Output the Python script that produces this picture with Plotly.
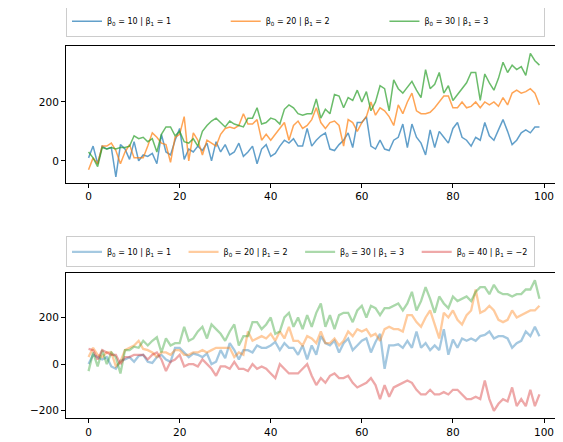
import plotly.graph_objects as go

x = list(range(100))
top_b1 = [10,50,-10,50,40,45,-55,55,40,5,65,0,20,15,25,-10,90,30,20,70,110,5,40,30,50,35,60,0,65,30,55,20,30,60,15,30,50,-10,40,55,15,25,50,70,60,75,50,50,110,50,70,85,95,40,35,55,70,95,45,130,130,150,50,40,70,40,35,70,80,125,45,125,80,60,20,105,45,100,80,60,110,130,80,70,50,80,70,130,85,70,105,140,100,55,70,95,105,95,115,115]
top_b2 = [-30,10,-10,50,50,60,35,-10,30,55,10,10,10,50,95,80,60,55,-5,80,90,150,0,95,70,20,70,60,50,90,110,115,110,120,160,125,125,140,70,90,70,90,110,130,70,120,135,110,120,140,180,130,110,130,135,120,50,140,130,100,130,150,200,155,180,170,150,120,190,160,200,230,170,160,160,165,180,200,220,220,180,180,200,180,185,200,180,200,190,200,185,215,190,230,240,230,235,245,230,190]
top_b3 = [30,10,-20,45,40,45,40,45,45,50,85,75,80,65,75,30,90,115,115,85,100,65,60,75,50,100,120,135,145,130,115,135,125,120,115,145,145,180,125,130,145,140,125,175,190,180,160,155,160,160,210,145,175,160,225,220,180,215,205,240,200,235,170,200,255,245,170,275,245,230,250,270,240,215,310,245,260,300,230,255,205,225,245,265,300,300,205,295,265,240,280,335,300,325,310,320,290,365,340,325]
bot_b1 = [0,40,30,20,30,-10,-20,15,20,30,10,35,40,10,5,30,40,20,10,70,70,50,30,45,40,30,45,0,10,60,25,90,60,20,60,60,50,80,70,70,80,95,60,90,70,70,40,80,20,80,40,120,90,80,100,50,90,110,60,80,100,110,50,95,130,-20,80,80,85,70,100,70,140,70,90,60,80,60,150,40,105,70,110,100,110,100,120,125,140,110,120,120,110,70,90,100,140,120,160,120]
bot_b2 = [30,70,40,30,50,50,-10,10,60,70,80,100,65,60,50,30,50,50,40,60,60,40,40,50,50,60,50,60,70,70,70,70,30,50,40,140,100,110,120,110,130,100,140,110,160,100,100,80,120,110,90,140,90,90,110,80,100,140,120,150,140,150,120,130,100,150,160,150,150,140,210,210,180,160,200,230,170,110,220,200,230,190,170,210,230,320,220,230,250,230,190,180,190,230,200,210,220,230,230,250]
bot_b3 = [-30,50,-10,60,0,50,30,-40,60,60,75,70,100,80,100,115,50,110,80,90,90,160,100,110,140,160,110,170,150,130,100,140,170,80,120,120,180,180,150,170,200,130,140,200,220,160,200,150,210,160,220,260,160,210,150,210,220,220,180,230,250,200,250,240,210,240,240,250,260,230,260,310,230,270,330,280,220,290,260,240,290,270,280,290,270,310,330,330,300,340,310,300,300,290,300,300,320,320,360,280]
bot_b4 = [65,60,20,60,50,40,40,0,30,30,40,40,40,20,40,50,20,-30,10,20,40,-10,0,0,-10,20,0,-20,-50,-10,-10,-20,10,-20,-20,-30,0,-20,-10,-20,-40,-60,0,-20,-40,-40,-40,-20,0,-50,-90,-60,-80,-50,-40,-60,-60,-50,-80,-100,-90,-80,-60,-90,-150,-90,-140,-100,-90,-80,-70,-80,-110,-130,-130,-110,-130,-130,-120,-130,-110,-110,-130,-150,-150,-140,-150,-70,-150,-200,-170,-150,-160,-100,-180,-150,-180,-110,-180,-130]

top_labels = ["β<sub>0</sub> = 10 | β<sub>1</sub> = 1", "β<sub>0</sub> = 20 | β<sub>1</sub> = 2", "β<sub>0</sub> = 30 | β<sub>1</sub> = 3"]
bot_labels = top_labels + ["β<sub>0</sub> = 40 | β<sub>1</sub> = −2"]
colors = ["#1f77b4", "#ff7f0e", "#2ca02c", "#d62728"]

fig = go.Figure()
for ys, lab, c in zip([top_b1, top_b2, top_b3], top_labels, colors):
    fig.add_trace(go.Scatter(x=x, y=ys, name=lab, mode="lines", line=dict(color=c, width=1.5),
                             opacity=0.7, xaxis="x", yaxis="y", legend="legend"))
for ys, lab, c in zip([bot_b1, bot_b2, bot_b3, bot_b4], bot_labels, colors):
    fig.add_trace(go.Scatter(x=x, y=ys, name=lab, mode="lines", line=dict(color=c, width=2.3),
                             opacity=0.4, xaxis="x2", yaxis="y2", legend="legend2"))

ax = dict(showgrid=False, zeroline=False, showline=True, mirror=True, linecolor="black", linewidth=1,
          ticks="outside", ticklen=4, tickcolor="black", tickfont=dict(size=10.5, color="black"))
fig.update_layout(
    width=563, height=442, plot_bgcolor="white", paper_bgcolor="white",
    margin=dict(l=58, r=9, t=38, b=32, autoexpand=False),
    font=dict(family="DejaVu Sans", color="black"),
    xaxis=dict(ax, domain=[0, 1], range=[-4.95, 103.95], tickvals=[0,20,40,60,80,100], anchor="y"),
    yaxis=dict(ax, domain=[0.632, 1], range=[-75, 390], tickvals=[0, 200], anchor="x"),
    xaxis2=dict(ax, domain=[0, 1], range=[-4.95, 103.95], tickvals=[0,20,40,60,80,100], anchor="y2"),
    yaxis2=dict(ax, domain=[0, 0.39], range=[-231, 391], tickvals=[-200, 0, 200], anchor="x2"),
    legend=dict(orientation="h", x=0, y=1.025, xanchor="left", yanchor="bottom",
                entrywidth=0.32, entrywidthmode="fraction", font=dict(size=8),
                bordercolor="#cccccc", borderwidth=1, bgcolor="white", itemwidth=30),
    legend2=dict(orientation="h", x=0, y=0.405, xanchor="left", yanchor="bottom",
                 entrywidth=0.235, entrywidthmode="fraction", font=dict(size=8),
                 bordercolor="#cccccc", borderwidth=1, bgcolor="white", itemwidth=30),
)
fig.write_html("out.html")
